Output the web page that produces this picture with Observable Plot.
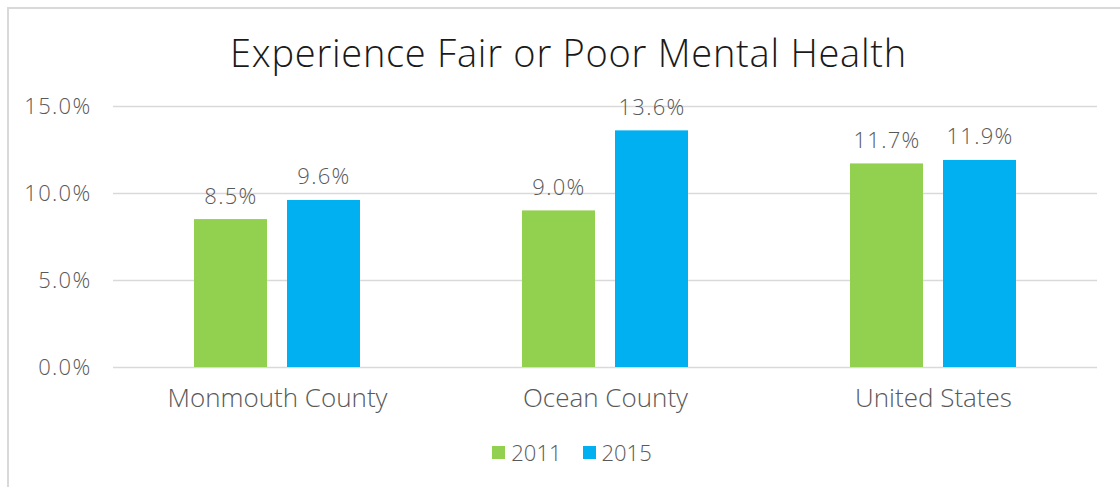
<!DOCTYPE html>
<html>
<head>
<meta charset="utf-8">
<script src="https://cdn.jsdelivr.net/npm/d3@7"></script>
<script src="https://cdn.jsdelivr.net/npm/@observablehq/plot@0.6"></script>
<style>
  html, body { margin: 0; padding: 0; background: #fff; overflow: hidden; }
  body { width: 1120px; height: 487px; position: relative; font-family: "Open Sans", Lato, sans-serif; }
  #frame { position: absolute; left: 7px; top: 7px; width: 1130px; height: 520px; border: 2px solid #d9d9d9; box-sizing: border-box; }
  #title { position: absolute; left: 0; width: 1104px; box-sizing: border-box; padding-left: 15px; top: 17px; text-align: center; font-size: 38px; font-weight: 300; color: #1a1a1a; letter-spacing: 0.75px; white-space: nowrap; }
  #chart { position: absolute; left: 0; top: 69px; }
  #legend { position: absolute; left: 0; width: 1104px; box-sizing: border-box; padding-left: 22px; top: 428px; display: flex; justify-content: center; gap: 21px; font-size: 22px; font-weight: 300; color: #595959; }
  .item { display: flex; align-items: center; gap: 6px; }
  .sw { width: 13px; height: 13px; display: inline-block; }
  g[aria-label="y-axis tick label"] text, g[aria-label="text"] text { letter-spacing: 1.3px; }
</style>
</head>
<body>
<div id="frame">
  <div id="title">Experience Fair or Poor Mental Health</div>
  <div id="chart"></div>
  <div id="legend"></div>
</div>
<script>
const categories = ["Monmouth County", "Ocean County", "United States"];
const years = ["2011", "2015"];
const values2011 = [8.5, 9.0, 11.7];
const values2015 = [9.6, 13.6, 11.9];
const yTicks = [0, 5, 10, 15];
const colors = ["#92D050", "#00B0F0"];

const rows = [];
categories.forEach((c, i) => {
  rows.push({category: c, year: "2011", value: values2011[i]});
  rows.push({category: c, year: "2015", value: values2015[i]});
});

const fmt = d => d.toFixed(1) + "%";

const chart = Plot.plot({
  width: 1100,
  height: 345,
  marginLeft: 103,
  marginRight: 11,
  marginTop: 28,
  marginBottom: 56,
  style: {fontFamily: '"Open Sans", Lato, sans-serif', fontWeight: 300, color: "#595959", background: "transparent"},
  fx: {domain: categories, padding: 0, label: null},
  x: {domain: years, paddingInner: 0.2128, paddingOuter: 0.8546, axis: null},
  y: {domain: [0, 15], label: null},
  color: {domain: years, range: colors},
  marks: [
    Plot.ruleY(yTicks, {stroke: "#d9d9d9", strokeWidth: 1.5}),
    Plot.axisY(yTicks, {tickFormat: fmt, tickSize: 0, tickPadding: 22, fontSize: 22, label: null, fill: "#595959"}),
    Plot.axisFx({anchor: "bottom", tickSize: 0, tickPadding: 21, fontSize: 26, label: null, fill: "#595959"}),
    Plot.barY(rows, {fx: "category", x: "year", y: "value", fill: "year"}),
    Plot.text(rows, {fx: "category", x: "year", y: "value", text: d => fmt(d.value), lineAnchor: "bottom", dy: -16, fontSize: 22, fill: "#595959"})
  ]
});
document.getElementById("chart").appendChild(chart);

const legend = document.getElementById("legend");
years.forEach((y, i) => {
  const it = document.createElement("div");
  it.className = "item";
  const sw = document.createElement("span");
  sw.className = "sw";
  sw.style.background = colors[i];
  const t = document.createElement("span");
  t.textContent = y;
  it.appendChild(sw); it.appendChild(t);
  legend.appendChild(it);
});
</script>
</body>
</html>
